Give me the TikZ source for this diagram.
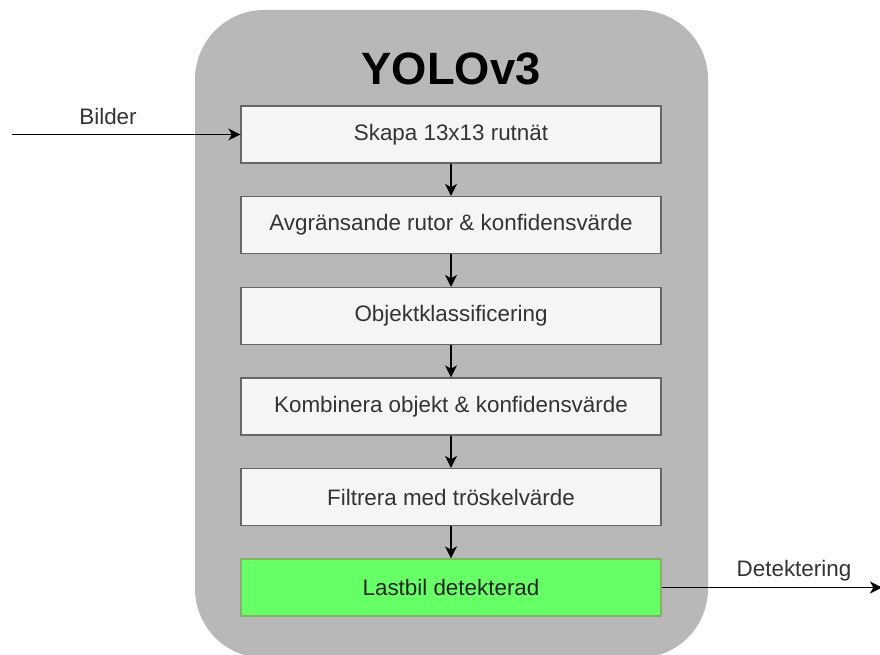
\documentclass[tikz,border=0pt]{standalone}
\usepackage{fontspec}
\setmainfont{Liberation Sans}
\usetikzlibrary{arrows.meta}
\definecolor{panelgray}{HTML}{B8B8B8}
\definecolor{boxfill}{HTML}{F5F5F5}
\definecolor{boxline}{HTML}{666666}
\definecolor{boxtext}{HTML}{333333}
\definecolor{hitfill}{HTML}{66FF66}
\definecolor{hitline}{HTML}{82B366}
\tikzset{
  stage/.style={draw=boxline, line width=0.9pt, fill=boxfill, text=boxtext,
    minimum width=315pt, minimum height=42.75pt, inner sep=0pt,
    font=\fontsize{16.8}{20}\selectfont},
  hit/.style={stage, fill=hitfill, draw=hitline, text=black!85},
  flow/.style={draw=black, line width=1.1pt,
    -{Stealth[length=9pt, width=9pt, inset=2.5pt]}},
  edgelabel/.style={text=boxtext, font=\fontsize{16.8}{20}\selectfont}
}
\begin{document}
\begin{tikzpicture}[x=0.75pt, y=-0.75pt]
  \useasboundingbox (0,0) rectangle (880,655);
  % rounded container
  \fill[panelgray, rounded corners=52pt] (195,10) rectangle (708,658);
  \node[font=\fontsize{34}{40}\selectfont\bfseries] (title) at (451,69) {YOLOv3};

  % pipeline stages
  \node[stage] (s1) at (451,134.5) {Skapa 13x13 rutnät};
  \node[stage] (s2) at (451,225) {Avgränsande rutor \& konfidensvärde};
  \node[stage] (s3) at (451,316) {Objektklassificering};
  \node[stage] (s4) at (451,406.5) {Kombinera objekt \& konfidensvärde};
  \node[stage] (s5) at (451,497) {Filtrera med tröskelvärde};
  \node[hit]   (s6) at (451,587.5) {Lastbil detekterad};

  \draw[flow] (s1) -- (s2);
  \draw[flow] (s2) -- (s3);
  \draw[flow] (s3) -- (s4);
  \draw[flow] (s4) -- (s5);
  \draw[flow] (s5) -- (s6);

  % input and output
  \coordinate (in) at (12,134.5);
  \coordinate (out) at (882,587.5);
  \draw[flow] (in) -- (s1.west);
  \draw[flow] (s6.east) -- (out);
  \node[edgelabel] (lin) at (108,116) {Bilder};
  \node[edgelabel] (lout) at (794,571) {Detektering};
\end{tikzpicture}
\end{document}
